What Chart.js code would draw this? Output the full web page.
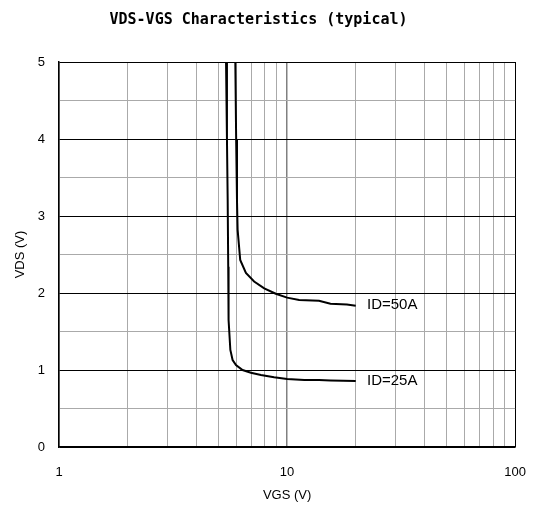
<!DOCTYPE html>
<html>
<head>
<meta charset="utf-8">
<script src="https://cdn.jsdelivr.net/npm/chart.js@4.4.1/dist/chart.umd.min.js"></script>
<style>
  html, body { margin: 0; padding: 0; background: #fff; }
  #wrap { width: 544px; height: 506px; }
</style>
</head>
<body>
<div id="wrap"><canvas id="myChart" width="544" height="506"></canvas></div>
<script>
// curve values (VGS in V, VDS in V)
const vgs50 = [5.93, 5.98, 6.03, 6.07, 6.23, 6.60, 7.17, 7.94, 8.92, 10.0, 11.3, 13.8, 15.5, 18.3, 20];
const vds50 = [5.0, 4.0, 3.21, 2.82, 2.43, 2.26, 2.15, 2.06, 1.99, 1.94, 1.91, 1.90, 1.86, 1.85, 1.835];

const vgs25 = [5.40, 5.45, 5.49, 5.52, 5.54, 5.64, 5.77, 5.97, 6.38, 6.94, 7.68, 8.77, 10.0, 11.9, 13.8, 15.5, 20];
const vds25 = [5.0, 4.0, 3.21, 2.34, 1.65, 1.26, 1.13, 1.065, 1.0, 0.965, 0.935, 0.905, 0.883, 0.87, 0.87, 0.865, 0.857];

// curve labels, placed in data coordinates
const labelText = ['ID=50A', 'ID=25A'];
const labelX = [22.4, 22.4];
const labelY = [1.85, 0.86];

// tick labels shown on the axes
const xTickLabels = [1, 10, 100];
const yTickLabels = [0, 1, 2, 3, 4, 5];

const toPoints = (xs, ys) => xs.map((x, i) => ({ x: x, y: ys[i] }));

const tickFont = { family: 'Liberation Sans', size: 13 };

// writes "ID=.." next to each curve
const curveLabels = {
    id: 'curveLabels',
    afterDatasetsDraw(chart) {
        const c = chart.ctx;
        const sx = chart.scales.x, sy = chart.scales.y;
        c.save();
        c.fillStyle = '#000';
        c.font = '15px "Liberation Sans"';
        c.textAlign = 'left';
        c.textBaseline = 'middle';
        labelText.forEach((t, i) => {
            c.fillText(t, sx.getPixelForValue(labelX[i]), sy.getPixelForValue(labelY[i]));
        });
        c.restore();
    }
};

const ctx = document.getElementById('myChart').getContext('2d');

const chart = new Chart(ctx, {
    type: 'line',
    data: {
        datasets: [
            {
                label: 'ID=50A',
                data: toPoints(vgs50, vds50),
                borderColor: '#000',
                borderWidth: 2,
                pointRadius: 0,
                tension: 0
            },
            {
                label: 'ID=25A',
                data: toPoints(vgs25, vds25),
                borderColor: '#000',
                borderWidth: 2,
                pointRadius: 0,
                tension: 0
            }
        ]
    },
    options: {
        responsive: false,
        animation: false,
        layout: { padding: { left: 0, right: 27, top: 0, bottom: 0 } },
        plugins: {
            legend: { display: false },
            tooltip: { enabled: false },
            title: {
                display: true,
                text: 'VDS-VGS Characteristics (typical)',
                color: '#000',
                font: { family: 'DejaVu Sans Mono', size: 15, weight: 'bold' },
                padding: { top: 11, bottom: 33 }
            }
        },
        scales: {
            x: {
                type: 'logarithmic',
                min: 1,
                max: 100,
                afterBuildTicks: (s) => {
                    const t = [];
                    for (let d = 1; d <= 10; d *= 10) {
                        for (let m = 1; m <= 9; m++) t.push({ value: m * d });
                    }
                    t.push({ value: 100 });
                    s.ticks = t;
                },
                afterFit: (s) => { s.height = 59; },
                ticks: {
                    autoSkip: false,
                    maxRotation: 0,
                    padding: 18,
                    color: '#000',
                    font: tickFont,
                    callback: (v) => xTickLabels.includes(v) ? String(v) : ''
                },
                grid: {
                    drawTicks: false,
                    color: (c) => c.tick && c.tick.value === 100 ? '#000' : (c.tick && c.tick.value === 10 ? '#808080' : '#aaaaaa'),
                    lineWidth: (c) => c.tick && c.tick.value === 10 ? 1.5 : 1
                },
                border: { color: '#000', width: 1.5 },
                title: {
                    display: true,
                    text: 'VGS (V)',
                    color: '#000',
                    font: { family: 'Liberation Sans', size: 13 },
                    padding: { top: 0, bottom: 3 }
                }
            },
            y: {
                min: 0,
                max: 5,
                afterFit: (s) => { s.width = 59; },
                ticks: {
                    stepSize: 0.5,
                    padding: 14,
                    color: '#000',
                    font: tickFont,
                    callback: (v) => yTickLabels.includes(v) ? String(v) : ''
                },
                grid: {
                    drawTicks: false,
                    color: (c) => c.tick && Number.isInteger(c.tick.value) ? '#000' : '#aaaaaa'
                },
                border: { color: '#000', width: 1.5 },
                title: {
                    display: true,
                    text: 'VDS (V)',
                    color: '#000',
                    font: { family: 'Liberation Sans', size: 13 },
                    padding: { top: 13, bottom: 0 }
                }
            }
        }
    },
    plugins: [curveLabels]
});
</script>
</body>
</html>
